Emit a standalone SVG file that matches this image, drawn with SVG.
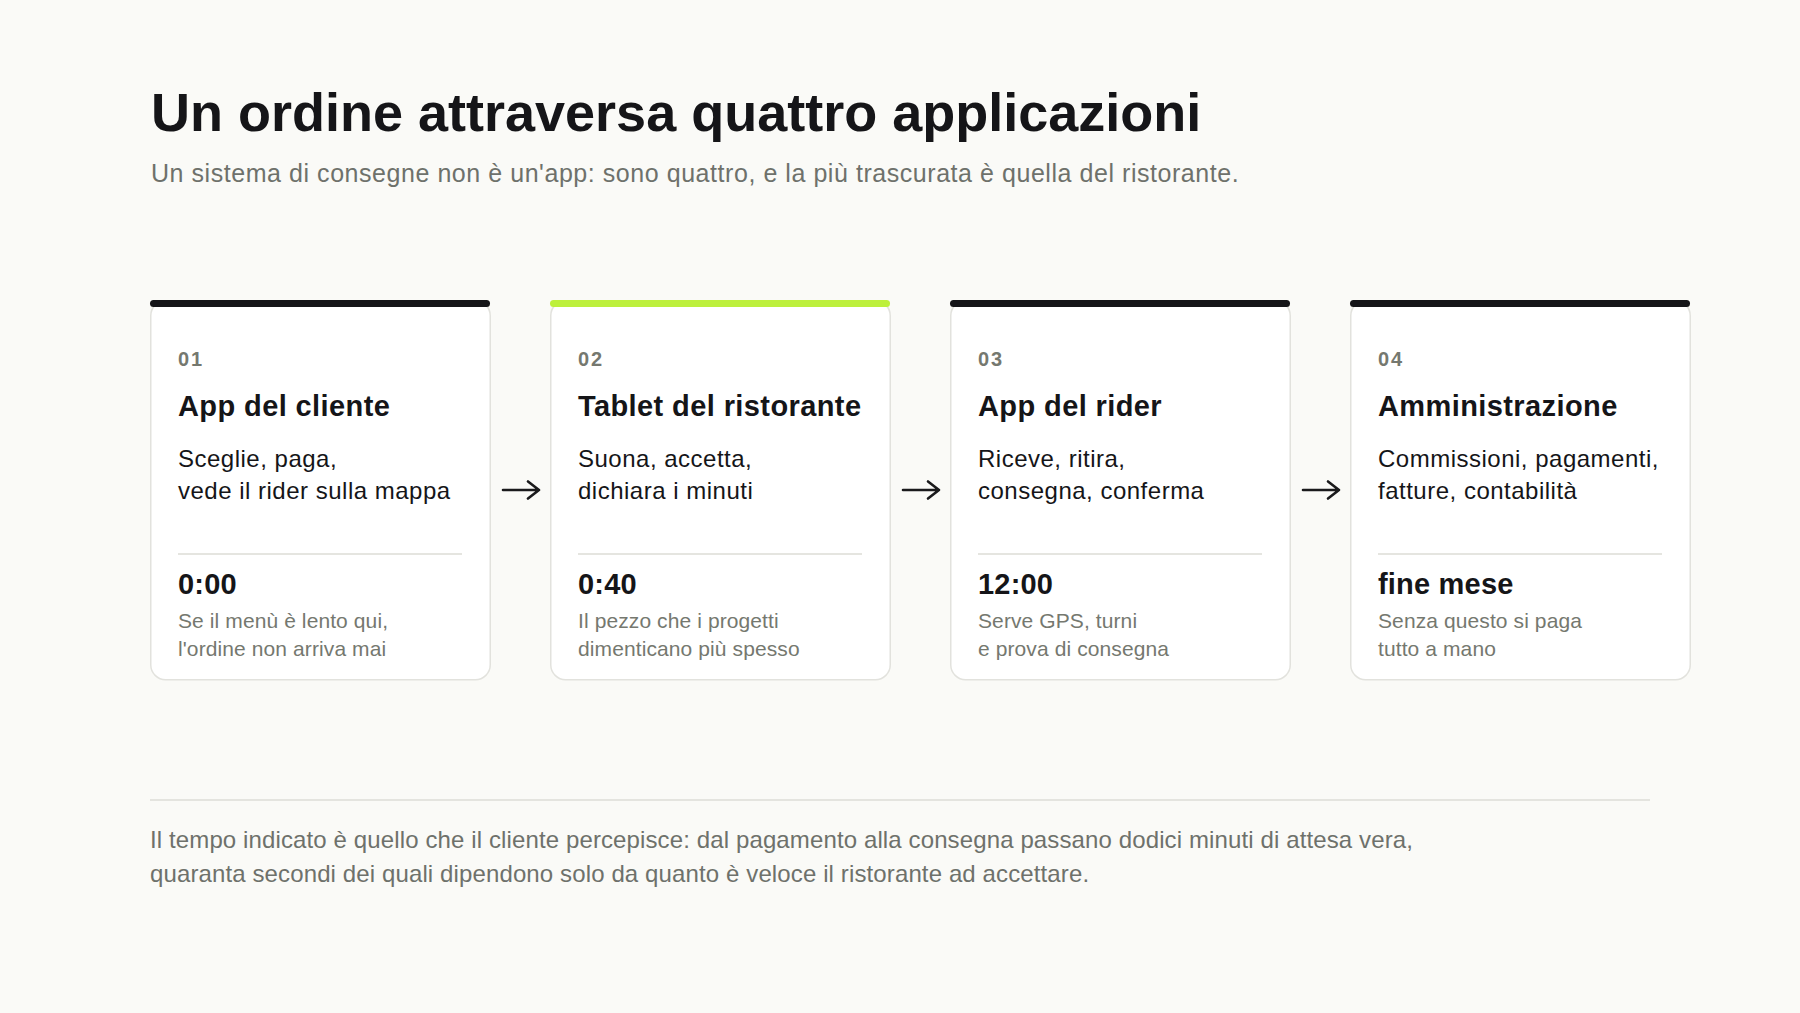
<svg xmlns="http://www.w3.org/2000/svg" width="1800" height="1013" viewBox="0 0 1800 1013">
<defs>
<style>
text{font-family:"Liberation Sans",Arial,Helvetica,sans-serif}
.h1{font-size:54px;font-weight:700;fill:#151518;letter-spacing:0px}
.sub{font-size:25px;fill:#6e716b;letter-spacing:0.55px}
.card{fill:#ffffff;stroke:#e2e2dd;stroke-width:1.5}
.bar{fill:#151518}
.bar-accent{fill:#bdf03c}
.num{font-size:20px;font-weight:700;fill:#75786f;letter-spacing:2px}
.title{font-size:29px;font-weight:700;fill:#151518;letter-spacing:0.4px}
.desc{font-size:24px;fill:#151518;letter-spacing:0.5px}
.sep{stroke:#e5e5e0;stroke-width:2}
.time{font-size:29px;font-weight:700;fill:#151518;letter-spacing:0.2px}
.note{font-size:21px;fill:#75786f;letter-spacing:0.1px}
.foot{font-size:24px;fill:#6e716b;letter-spacing:0.12px}
.arrow{fill:none;stroke:#1a1a1c;stroke-width:2.6;stroke-linecap:round;stroke-linejoin:round}
</style>
</defs>
<rect x="0" y="0" width="1800" height="1013" fill="#fafaf7"/>

<g id="header">
<text class="h1" x="151" y="131">Un ordine attraversa quattro applicazioni</text>
<text class="sub" x="151" y="182">Un sistema di consegne non è un'app: sono quattro, e la più trascurata è quella del ristorante.</text>
</g>

<g id="node-01">
<rect class="card" x="150.75" y="300.75" width="339.5" height="379" rx="15"/>
<rect class="bar" x="150" y="300" width="340" height="7" rx="3.5"/>
<text class="num" x="178" y="366">01</text>
<text class="title" x="178" y="416">App del cliente</text>
<text class="desc" x="178" y="467">Sceglie, paga,</text>
<text class="desc" x="178" y="499">vede il rider sulla mappa</text>
<line class="sep" x1="178" y1="554" x2="462" y2="554"/>
<text class="time" x="178" y="594">0:00</text>
<text class="note" x="178" y="628">Se il menù è lento qui,</text>
<text class="note" x="178" y="656">l'ordine non arriva mai</text>
</g>

<g id="node-02">
<rect class="card" x="550.75" y="300.75" width="339.5" height="379" rx="15"/>
<rect class="bar-accent" x="550" y="300" width="340" height="7" rx="3.5"/>
<text class="num" x="578" y="366">02</text>
<text class="title" x="578" y="416">Tablet del ristorante</text>
<text class="desc" x="578" y="467">Suona, accetta,</text>
<text class="desc" x="578" y="499">dichiara i minuti</text>
<line class="sep" x1="578" y1="554" x2="862" y2="554"/>
<text class="time" x="578" y="594">0:40</text>
<text class="note" x="578" y="628">Il pezzo che i progetti</text>
<text class="note" x="578" y="656">dimenticano più spesso</text>
</g>

<g id="node-03">
<rect class="card" x="950.75" y="300.75" width="339.5" height="379" rx="15"/>
<rect class="bar" x="950" y="300" width="340" height="7" rx="3.5"/>
<text class="num" x="978" y="366">03</text>
<text class="title" x="978" y="416">App del rider</text>
<text class="desc" x="978" y="467">Riceve, ritira,</text>
<text class="desc" x="978" y="499">consegna, conferma</text>
<line class="sep" x1="978" y1="554" x2="1262" y2="554"/>
<text class="time" x="978" y="594">12:00</text>
<text class="note" x="978" y="628">Serve GPS, turni</text>
<text class="note" x="978" y="656">e prova di consegna</text>
</g>

<g id="node-04">
<rect class="card" x="1350.75" y="300.75" width="339.5" height="379" rx="15"/>
<rect class="bar" x="1350" y="300" width="340" height="7" rx="3.5"/>
<text class="num" x="1378" y="366">04</text>
<text class="title" x="1378" y="416">Amministrazione</text>
<text class="desc" x="1378" y="467">Commissioni, pagamenti,</text>
<text class="desc" x="1378" y="499">fatture, contabilità</text>
<line class="sep" x1="1378" y1="554" x2="1662" y2="554"/>
<text class="time" x="1378" y="594">fine mese</text>
<text class="note" x="1378" y="628">Senza questo si paga</text>
<text class="note" x="1378" y="656">tutto a mano</text>
</g>

<g id="connectors">
<path class="arrow" d="M503 490 H539 M528 481.5 L539 490 L528 498.5"/>
<path class="arrow" d="M903 490 H939 M928 481.5 L939 490 L928 498.5"/>
<path class="arrow" d="M1303 490 H1339 M1328 481.5 L1339 490 L1328 498.5"/>
</g>

<g id="footer">
<line x1="150" y1="800" x2="1650" y2="800" stroke="#e4e4df" stroke-width="2"/>
<text class="foot" x="150" y="848">Il tempo indicato è quello che il cliente percepisce: dal pagamento alla consegna passano dodici minuti di attesa vera,</text>
<text class="foot" x="150" y="882">quaranta secondi dei quali dipendono solo da quanto è veloce il ristorante ad accettare.</text>
</g>
</svg>
